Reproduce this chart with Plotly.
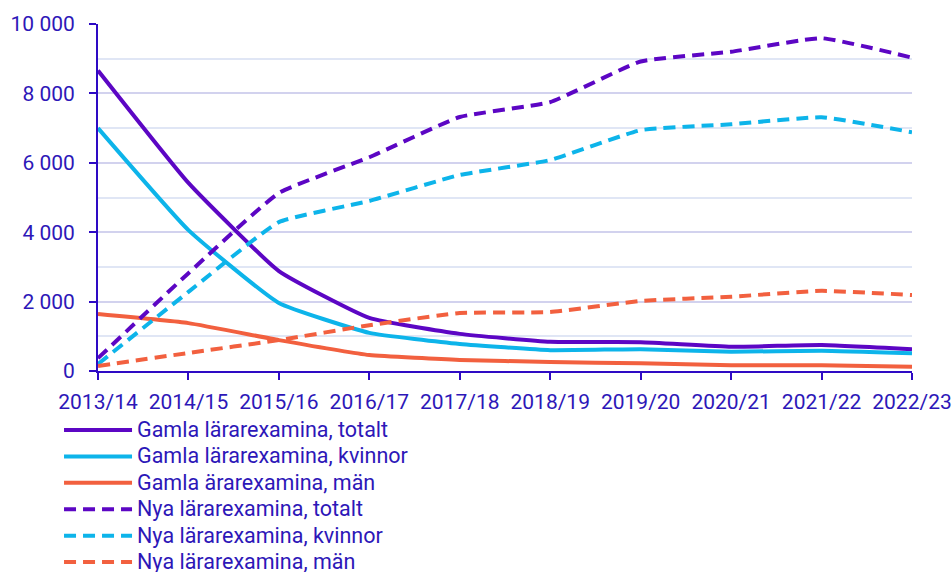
import plotly.graph_objects as go

years = ["2013/14", "2014/15", "2015/16", "2016/17", "2017/18",
         "2018/19", "2019/20", "2020/21", "2021/22", "2022/23"]

gamla_totalt = [8660, 5420, 2880, 1530, 1070, 840, 830, 700, 750, 630]
gamla_kvinnor = [7000, 4060, 1960, 1100, 780, 600, 630, 555, 585, 510]
gamla_man = [1640, 1380, 890, 460, 320, 260, 220, 165, 165, 125]
nya_totalt = [370, 2820, 5130, 6160, 7320, 7750, 8920, 9200, 9590, 9030]
nya_kvinnor = [200, 2280, 4290, 4900, 5650, 6080, 6940, 7110, 7310, 6880]
nya_man = [145, 520, 890, 1320, 1670, 1700, 2020, 2140, 2310, 2190]

y_ticks = [0, 2000, 4000, 6000, 8000, 10000]
y_ticktext = ["0", "2 000", "4 000", "6 000", "8 000", "10 000"]

PURPLE = "#5c06c4"
CYAN = "#0db4ea"
ORANGE = "#f2603f"
TEXT = "#2d17b8"
AXIS = "#2e0ac4"
DASH = "12px,7px"

series = [
    ("Gamla lärarexamina, totalt", gamla_totalt, PURPLE, "solid"),
    ("Gamla lärarexamina, kvinnor", gamla_kvinnor, CYAN, "solid"),
    ("Gamla ärarexamina, män", gamla_man, ORANGE, "solid"),
    ("Nya lärarexamina, totalt", nya_totalt, PURPLE, DASH),
    ("Nya lärarexamina, kvinnor", nya_kvinnor, CYAN, DASH),
    ("Nya lärarexamina, män", nya_man, ORANGE, DASH),
]

fig = go.Figure()
for name, vals, color, dash in series:
    fig.add_trace(go.Scatter(
        x=years, y=vals, mode="lines", name=name,
        line=dict(color=color, width=4, dash=dash, shape="spline", smoothing=0.4),
    ))

fig.update_layout(
    width=952, height=572,
    margin=dict(l=98, r=40, t=24, b=201, autoexpand=False),
    plot_bgcolor="white", paper_bgcolor="white",
    font=dict(family="Roboto", size=21, color=TEXT),
    showlegend=True,
    legend=dict(
        orientation="v", xref="container", yref="container",
        x=0.062, y=0.28, xanchor="left", yanchor="top",
        # 18px keeps the tight row spacing; text is enlarged after drawing
        font=dict(size=18, color=TEXT), itemwidth=68,
        tracegroupgap=0, bgcolor="rgba(0,0,0,0)",
    ),
)

fig.update_xaxes(
    type="category", range=[0, 9], automargin=False, tickangle=0,
    showline=True, linecolor=AXIS, linewidth=2,
    ticks="outside", ticklen=7, tickcolor=AXIS, tickwidth=2,
    ticklabelstandoff=4,
    showgrid=False, tickfont=dict(size=21, color=TEXT),
)
fig.update_yaxes(
    range=[0, 10000], tickvals=y_ticks, ticktext=y_ticktext, automargin=False,
    showline=True, linecolor=AXIS, linewidth=2,
    ticks="outside", ticklen=7, tickcolor=AXIS, tickwidth=2,
    ticklabelstandoff=10,
    showgrid=True, gridcolor="#d2d2ee", gridwidth=2,
    minor=dict(dtick=1000, showgrid=True, gridcolor="#e0e6f5", gridwidth=2),
    zeroline=False, tickfont=dict(size=21, color=TEXT),
)

post = (
    "document.body.style.margin='0';"
    "document.querySelectorAll('.legend .scrollbox').forEach(function(s){"
    "s.removeAttribute('clip-path');});"
    "document.querySelectorAll('.legendtext').forEach(function(t){"
    "t.style.fontSize='21.5px';});"
)
fig.write_html("out.html", post_script=post, config={"displayModeBar": False})
